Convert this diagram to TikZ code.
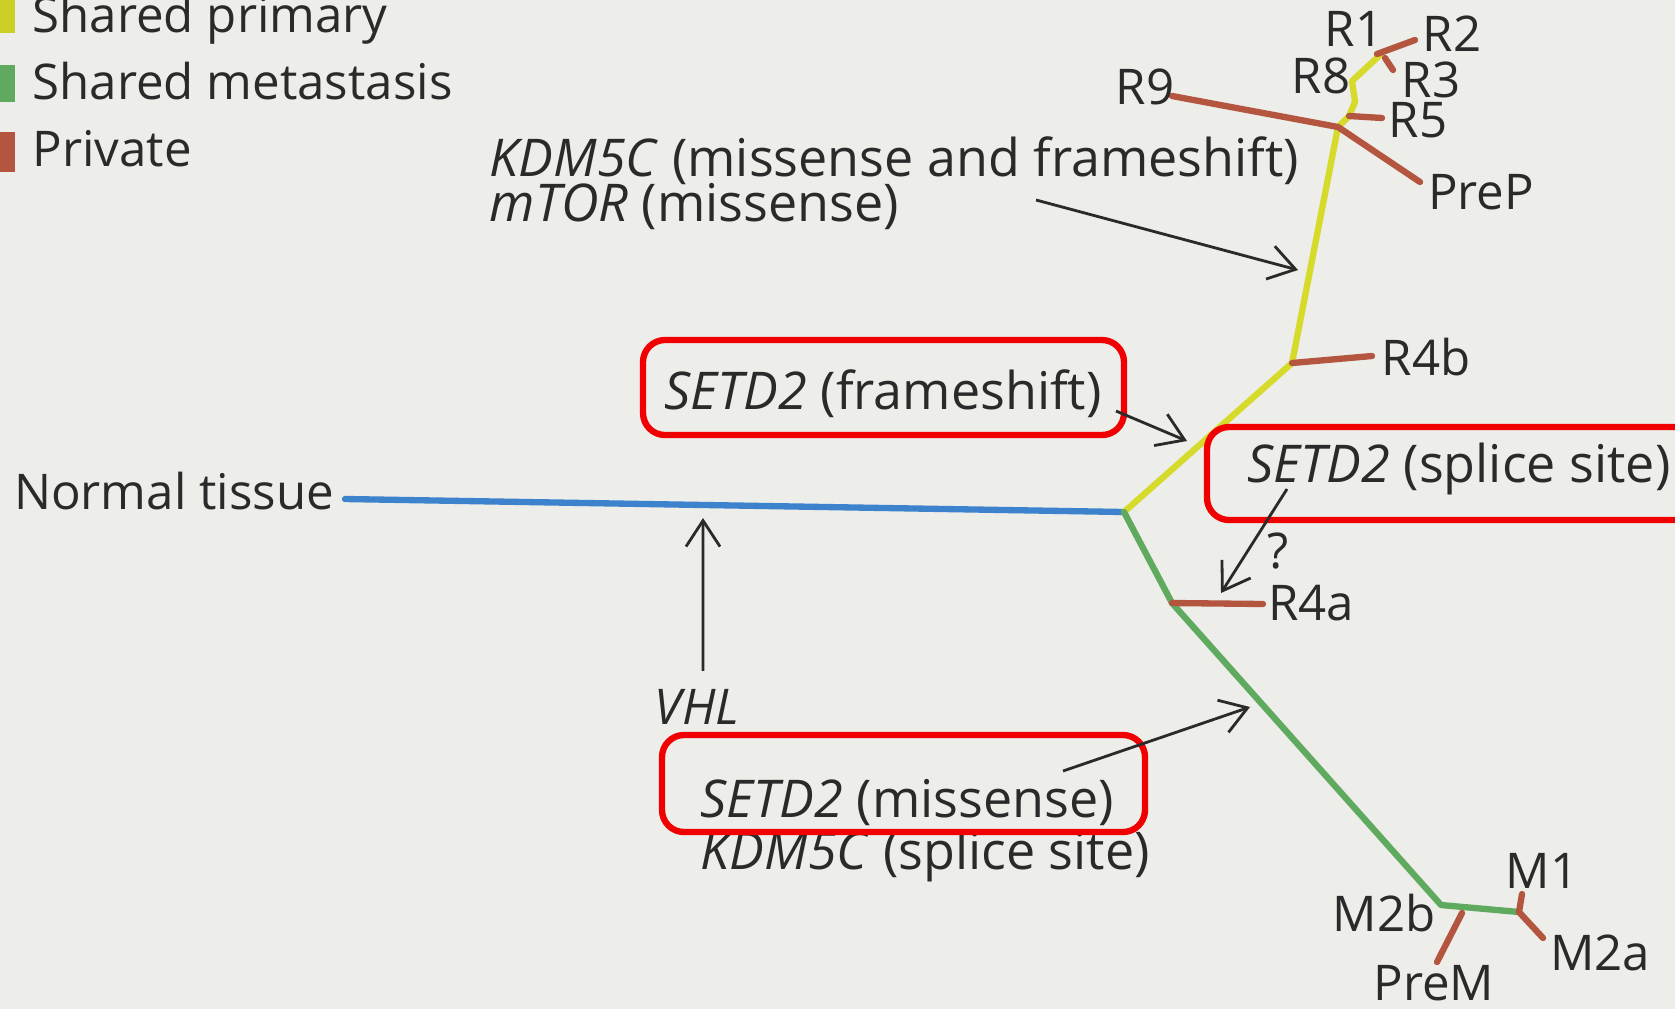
\documentclass[tikz,border=0pt]{standalone}
\usepackage{fontspec}
\setmainfont{Open Sans}
\usetikzlibrary{arrows.meta, calc}

\definecolor{paper}{HTML}{EDEDEA}
\definecolor{ink}{HTML}{2A2A2A}
\definecolor{normalblue}{HTML}{3C82CD}
\definecolor{primyellow}{HTML}{D6DA2A}
\definecolor{metgreen}{HTML}{5FAA5F}
\definecolor{privred}{HTML}{B4553F}
\definecolor{hlred}{HTML}{F00000}

\begin{document}
\begin{tikzpicture}[
    >={Straight Barb[length=2.6mm, width=3.4mm]},
    font=\fontsize{14}{16}\selectfont,
    treeline/.style={line width=1.8pt, line join=round, line cap=round},
    trunk/.style={treeline, normalblue},
    primary/.style={treeline, primyellow},
    metast/.style={treeline, metgreen},
    private/.style={treeline, privred},
    hlbox/.style={draw=hlred, line width=1.8pt, rounded corners=2.2mm},
    pointer/.style={->, line width=0.8pt, ink},
    lbl/.style={text=ink, inner sep=0pt},
    legtxt/.style={lbl, anchor=base west},
    gene/.style={lbl, anchor=base west, font=\fontsize{14.8}{16}\selectfont}
]

    % === CANVAS ===
    \def\picW{16.75}
    \def\picH{10.09}
    \fill[paper] (0,0) rectangle (\picW,\picH);
    \useasboundingbox (0,0) rectangle (\picW,\picH);

    % === 1. LEGEND ===
    \fill[primyellow!95!black] (-0.1,9.76) rectangle (0.15,10.2);
    \fill[metgreen] (-0.1,9.07) rectangle (0.15,9.44);
    \fill[privred] (-0.1,8.37) rectangle (0.15,8.77);
    \node[legtxt] (legPrim) at (0.32,9.77) {Shared primary};
    \node[legtxt] (legMet) at (0.32,9.10) {Shared metastasis};
    \node[legtxt] (legPriv) at (0.32,8.43) {Private};

    % === 2. TREE COORDINATES ===
    % Trunk (normal tissue)
    \coordinate (TrunkStart) at (3.45,5.10);
    \coordinate (RootSplit) at (11.24,4.97);
    % Shared primary (yellow) path
    \coordinate (R4bSplit) at (12.92,6.46);
    \coordinate (CrossSplit) at (13.38,8.82);
    \coordinate (R5Split) at (13.49,8.93);
    \coordinate (UpperBend) at (13.55,9.07);
    \coordinate (R8Bend) at (13.52,9.28);
    \coordinate (R1Split) at (13.80,9.54);
    % Shared metastasis (green) path
    \coordinate (R4aSplit) at (11.72,4.06);
    \coordinate (M2bSplit) at (14.41,1.04);
    \coordinate (M1Split) at (15.19,0.97);
    % Private tips
    \coordinate (R2Tip) at (14.15,9.69);
    \coordinate (R3Root) at (13.85,9.51);
    \coordinate (R3Tip) at (13.93,9.39);
    \coordinate (R5Tip) at (13.82,8.91);
    \coordinate (R9Tip) at (11.72,9.13);
    \coordinate (PrePTip) at (14.20,8.27);
    \coordinate (R4bTip) at (13.72,6.53);
    \coordinate (R4aTip) at (12.63,4.05);
    \coordinate (PreMRoot) at (14.62,0.96);
    \coordinate (PreMTip) at (14.37,0.47);
    \coordinate (M1Tip) at (15.22,1.15);
    \coordinate (M2aTip) at (15.43,0.71);

    % === 3. BRANCHES ===
    \draw[trunk] (TrunkStart) -- (RootSplit);
    \draw[primary] (RootSplit) -- (R4bSplit) -- (CrossSplit) -- (R5Split)
        -- (UpperBend) -- (R8Bend) -- (R1Split);
    \draw[metast] (RootSplit) -- (R4aSplit) -- (M2bSplit) -- (M1Split);

    \draw[private] ($(R1Split)+(-0.03,0.01)$) -- (R2Tip);
    \draw[private] (R3Root) -- (R3Tip);
    \draw[private] (R5Split) -- (R5Tip);
    \draw[private] (R9Tip) -- (CrossSplit) -- (PrePTip);
    \draw[private] (R4bSplit) -- (R4bTip);
    \draw[private] (R4aSplit) -- (R4aTip);
    \draw[private] (PreMRoot) -- (PreMTip);
    \draw[private] (M1Split) -- (M1Tip);
    \draw[private] (M1Split) -- (M2aTip);

    % === 4. SAMPLE LABELS ===
    \node[lbl] (normal) at (1.74,5.18) {Normal tissue};
    \node[lbl] (lR1) at (13.54,9.80) {R1};
    \node[lbl] (lR2) at (14.52,9.75) {R2};
    \node[lbl] (lR8) at (13.21,9.33) {R8};
    \node[lbl] (lR3) at (14.31,9.29) {R3};
    \node[lbl] (lR5) at (14.18,8.89) {R5};
    \node[lbl] (lR9) at (11.45,9.22) {R9};
    \node[lbl] (lPreP) at (14.81,8.17) {PreP};
    \node[lbl] (lR4b) at (14.26,6.52) {R4b};
    \node[lbl] (lR4a) at (13.11,4.06) {R4a};
    \node[lbl] (lM1) at (15.42,1.38) {M1};
    \node[lbl] (lM2b) at (13.84,0.96) {M2b};
    \node[lbl] (lM2a) at (16.00,0.56) {M2a};
    \node[lbl] (lPreM) at (14.34,0.26) {PreM};

    % === 5. MUTATION ANNOTATIONS ===
    \node[gene] (kdmTop) at (4.89,8.33) {\textit{KDM5C} (missense and frameshift)};
    \node[gene] (mtor) at (4.89,7.88) {\textit{mTOR} (missense)};
    \node[gene] (frameTxt) at (6.64,6.00) {\textit{SETD2} (frameshift)};
    \node[gene] (spliceTxt) at (12.47,5.27) {\textit{SETD2} (splice site)};
    \node[gene] (missTxt) at (7.00,1.92) {\textit{SETD2} (missense)};
    \node[gene] (kdmLow) at (7.00,1.40) {\textit{KDM5C} (splice site)};
    \node[lbl] (vhl) at (6.97,3.02) {\textit{VHL}};
    \node[lbl] (qmark) at (12.78,4.58) {?};

    % Red highlight boxes
    \draw[hlbox] (6.43,6.69) rectangle (11.24,5.74);
    \draw[hlbox] (12.07,5.82) rectangle (17.0,4.89);
    \draw[hlbox] (6.62,2.74) rectangle (11.45,1.77);

    % Pointer arrows
    \coordinate (KdmStart) at (10.36,8.09);
    \coordinate (KdmHit) at (12.98,7.39);
    \coordinate (FrameStart) at (11.16,5.98);
    \coordinate (FrameHit) at (11.87,5.68);
    \coordinate (SpliceStart) at (12.87,5.20);
    \coordinate (SpliceHit) at (12.21,4.16);
    \coordinate (VhlHit) at (7.03,4.91);
    \coordinate (MissStart) at (10.63,2.38);
    \coordinate (MissHit) at (12.50,3.02);

    \draw[pointer] (KdmStart) -- (KdmHit);
    \draw[pointer] (FrameStart) -- (FrameHit);
    \draw[pointer] (SpliceStart) -- (SpliceHit);
    \draw[pointer] ([xshift=0.06cm, yshift=0.18cm]vhl.north) -- (VhlHit);
    \draw[pointer] (MissStart) -- (MissHit);

\end{tikzpicture}
\end{document}
